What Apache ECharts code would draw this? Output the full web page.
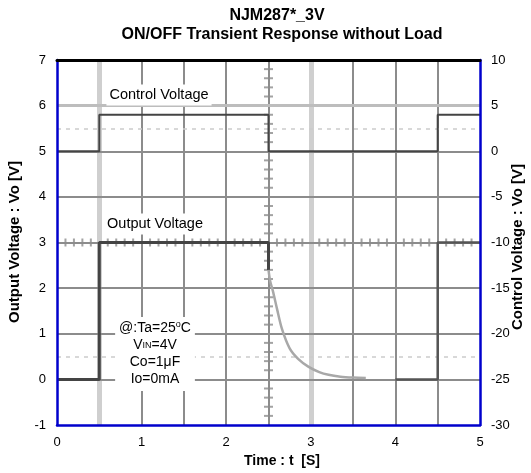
<!DOCTYPE html>
<html>
<head>
<meta charset="utf-8">
<script src="https://cdn.jsdelivr.net/npm/echarts@6/dist/echarts.min.js"></script>
<style>
  html, body { margin: 0; padding: 0; background: #fff; }
  #chart { width: 531px; height: 473px; }
</style>
</head>
<body>
<div id="chart"></div>
<script>
// time axis [S], left axis = output voltage [V], right axis = control voltage [V]
const ctrlTime = [0, 0.5, 0.5, 2.5, 2.5, 4.5, 4.5, 5];
const ctrlVolt = [0, 0, 4, 4, 0, 0, 4, 4];

const outOnTime = [0, 0.5, 0.5, 2.5, 2.5];
const outOnVolt = [0, 0, 3, 3, 2.4];

const decayTime = [2.5, 2.52, 2.55, 2.6, 2.66, 2.75, 2.85, 2.97, 3.1, 3.21, 3.35, 3.5, 3.65];
const decayVolt = [2.4, 2.15, 1.95, 1.55, 1.1, 0.68, 0.45, 0.28, 0.16, 0.1, 0.06, 0.04, 0.03];

const outOffTime = [4.0, 4.5, 4.5, 5];
const outOffVolt = [0, 0, 3, 3];

// scope graticule
const darkGridX = [1, 1.5, 2, 2.5, 3.5, 4, 4.5];
const lightGridX = [0.5, 3];
const darkGridY = [0, 1, 2, 3, 4, 5];
const lightGridY = [6];
const dottedGridY = [0.5, 5.5];

function pairs(xs, ys) {
  return xs.map((x, i) => [x, ys[i]]);
}

// minor division marks along the centre lines (x = 2.5, y = 3)
const hMarks = [];
for (let i = 1; i < 50; i++) {
  if (i % 5 !== 0) hMarks.push([i / 10, 3]);
}
const vMarks = [];
for (let i = 1; i < 40; i++) {
  if (i % 5 !== 0) vMarks.push([2.5, -1 + i / 5]);
}

const gridLines = [].concat(
  darkGridX.map(v => ({ xAxis: v, lineStyle: { color: "#8c8c8c", width: 2, type: "solid" } })),
  lightGridX.map(v => ({ xAxis: v, lineStyle: { color: "#cfcfcf", width: 5, type: "solid" } })),
  darkGridY.map(v => ({ yAxis: v, lineStyle: { color: "#8c8c8c", width: 2, type: "solid" } })),
  lightGridY.map(v => ({ yAxis: v, lineStyle: { color: "#bdbdbd", width: 3, type: "solid" } })),
  dottedGridY.map(v => ({ yAxis: v, lineStyle: { color: "#cccccc", width: 1.5, type: [4, 5] } }))
);

const chart = echarts.init(document.getElementById("chart"));
const font = "Liberation Sans, Arial, sans-serif";

chart.setOption({
  animation: false,
  textStyle: { fontFamily: font },
  grid: { left: 57, right: 51, top: 60, bottom: 48 },
  xAxis: [
    {
      type: "value",
      min: 0,
      max: 5,
      interval: 1,
      position: "bottom",
      axisLine: { onZero: false, lineStyle: { color: "#0000cc", width: 2.5 } },
      axisTick: { show: false },
      axisLabel: { color: "#000", fontSize: 13, margin: 11 },
      splitLine: { show: false },
      z: 10
    },
    {
      type: "value",
      min: 0,
      max: 5,
      position: "top",
      axisLine: { onZero: false, lineStyle: { color: "#000", width: 3 } },
      axisTick: { show: false },
      axisLabel: { show: false },
      splitLine: { show: false },
      z: 10
    }
  ],
  yAxis: [
    {
      type: "value",
      min: -1,
      max: 7,
      interval: 1,
      position: "left",
      axisLine: { show: true, onZero: false, lineStyle: { color: "#0000cc", width: 2.5 } },
      axisTick: { show: false },
      axisLabel: { color: "#000", fontSize: 13, margin: 11 },
      splitLine: { show: false },
      z: 10
    },
    {
      type: "value",
      min: -30,
      max: 10,
      interval: 5,
      position: "right",
      axisLine: { show: true, onZero: false, lineStyle: { color: "#0000cc", width: 2.5 } },
      axisTick: { show: false },
      axisLabel: { color: "#000", fontSize: 13, margin: 11 },
      splitLine: { show: false },
      z: 10
    }
  ],
  series: [
    {
      name: "graticule",
      type: "line",
      data: [],
      silent: true,
      z: 1,
      markLine: {
        silent: true,
        symbol: "none",
        label: { show: false },
        animation: false,
        data: gridLines
      }
    },
    {
      name: "hMarks",
      type: "scatter",
      silent: true,
      z: 2,
      symbol: "rect",
      symbolSize: [2, 8],
      itemStyle: { color: "#8c8c8c" },
      data: hMarks
    },
    {
      name: "vMarks",
      type: "scatter",
      silent: true,
      z: 2,
      symbol: "rect",
      symbolSize: [9, 2],
      itemStyle: { color: "#8c8c8c" },
      data: vMarks
    },
    {
      name: "Control Voltage",
      type: "line",
      yAxisIndex: 1,
      z: 5,
      showSymbol: false,
      lineStyle: { color: "#444", width: 2 },
      data: pairs(ctrlTime, ctrlVolt)
    },
    {
      name: "Output ON",
      type: "line",
      z: 5,
      showSymbol: false,
      lineStyle: { color: "#444", width: 3 },
      data: pairs(outOnTime, outOnVolt)
    },
    {
      name: "Output decay",
      type: "line",
      z: 5,
      showSymbol: false,
      smooth: 0.3,
      lineStyle: { color: "#a8a8a8", width: 2.5 },
      data: pairs(decayTime, decayVolt)
    },
    {
      name: "Output OFF",
      type: "line",
      z: 5,
      showSymbol: false,
      lineStyle: { color: "#555", width: 2.5 },
      data: pairs(outOffTime, outOffVolt)
    }
  ],
  graphic: [
    {
      type: "text", x: 277, y: 16,
      style: { text: "NJM287*_3V", font: "bold 16px " + font, fill: "#000", textAlign: "center", textVerticalAlign: "middle" }
    },
    {
      type: "text", x: 282, y: 35,
      style: { text: "ON/OFF Transient Response without Load", font: "bold 16px " + font, fill: "#000", textAlign: "center", textVerticalAlign: "middle" }
    },
    {
      type: "text", x: 282, y: 461,
      style: { text: "Time : t  [S]", font: "bold 14px " + font, fill: "#000", textAlign: "center", textVerticalAlign: "middle" }
    },
    {
      type: "text", x: 15, y: 242, rotation: Math.PI / 2,
      style: { text: "Output Voltage : Vo [V]", font: "bold 15px " + font, fill: "#000", textAlign: "center", textVerticalAlign: "middle" }
    },
    {
      type: "text", x: 518, y: 247, rotation: Math.PI / 2,
      style: { text: "Control Voltage : Vo [V]", font: "bold 15px " + font, fill: "#000", textAlign: "center", textVerticalAlign: "middle" }
    },
    {
      type: "text", x: 159, y: 95, z: 50,
      style: {
        text: "Control Voltage", font: "14.5px " + font, fill: "#000",
        textAlign: "center", textVerticalAlign: "middle",
        backgroundColor: "#fff", padding: [3, 3, 3, 3]
      }
    },
    {
      type: "text", x: 155, y: 224, z: 50,
      style: {
        text: "Output Voltage", font: "14.5px " + font, fill: "#000",
        textAlign: "center", textVerticalAlign: "middle",
        backgroundColor: "#fff", padding: [3, 3, 3, 3]
      }
    },
    {
      type: "text", x: 155, y: 354, z: 50,
      style: {
        text: "@:Ta=25{sup|o}C\nV{sub|IN}=4V\nCo=1\u03bcF\nIo=0mA",
        font: "14px " + font, fill: "#000",
        lineHeight: 17,
        textAlign: "center", textVerticalAlign: "middle",
        backgroundColor: "#fff", padding: [3, 4, 3, 4],
        rich: {
          sup: { fontSize: 9, verticalAlign: "top", lineHeight: 17, padding: [0, 0, 6, 0] },
          sub: { fontSize: 9, lineHeight: 17 }
        }
      }
    }
  ]
});
</script>
</body>
</html>
